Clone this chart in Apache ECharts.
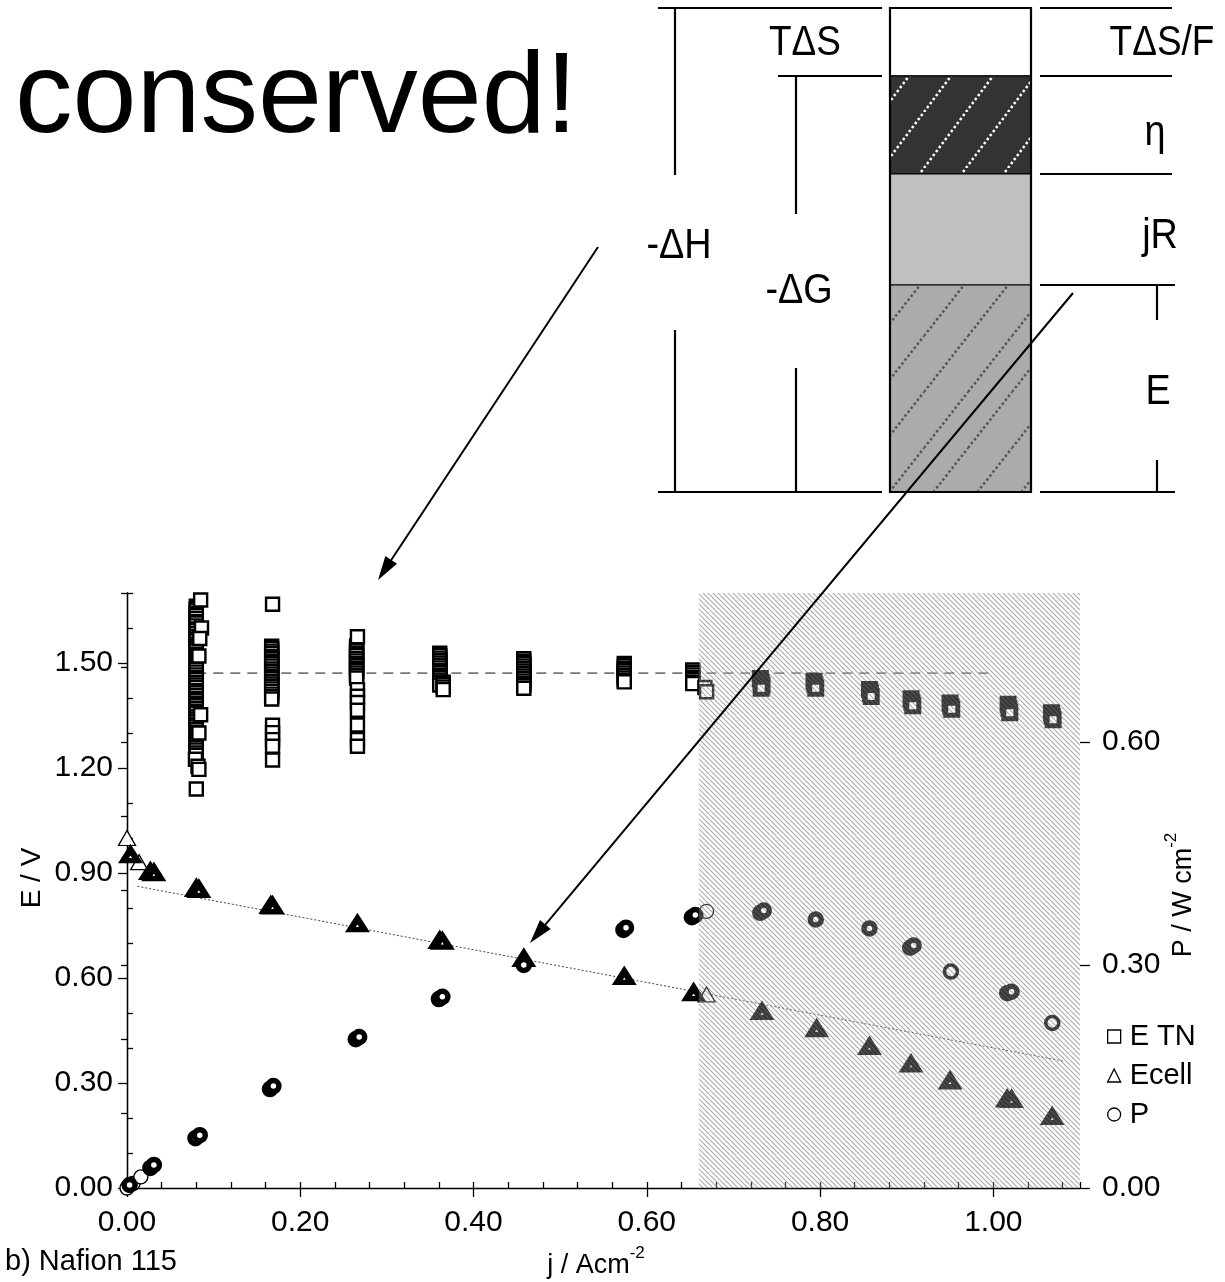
<!DOCTYPE html>
<html>
<head>
<meta charset="utf-8">
<script src="https://cdn.jsdelivr.net/npm/echarts@6/dist/echarts.min.js"></script>
<style>
  html, body { margin: 0; padding: 0; background: #fff; }
  #main { width: 1225px; height: 1282px; }
</style>
</head>
<body>
<div id="main"></div>
<script>
  const FONT = '"Liberation Sans", Arial, sans-serif';

  // E TN columns: repeated readings at one current density (j / A cm-2 -> E / V)
  const etnCol1 = [1.662, 1.655, 1.649, 1.641, 1.636, 1.628, 1.619, 1.614, 1.606, 1.597, 1.592, 1.584, 1.576, 1.569, 1.563, 1.554, 1.547, 1.540, 1.534, 1.525, 1.517, 1.511, 1.503, 1.497, 1.488, 1.481, 1.474, 1.466, 1.459, 1.452, 1.444, 1.437, 1.430, 1.421, 1.415, 1.407, 1.399, 1.393, 1.385, 1.378, 1.370, 1.362, 1.356, 1.347, 1.340, 1.333, 1.325, 1.318, 1.310, 1.302, 1.296, 1.288, 1.280, 1.273, 1.266, 1.258, 1.251, 1.243, 1.236];
  const etnCol2 = [1.548, 1.541, 1.534, 1.527, 1.519, 1.512, 1.505, 1.498, 1.491, 1.483, 1.476, 1.469, 1.462, 1.455, 1.447, 1.440, 1.433, 1.426, 1.419, 1.411, 1.404, 1.397];
  const etnCol3 = [1.549, 1.542, 1.535, 1.528, 1.521, 1.513, 1.506, 1.499, 1.492, 1.485, 1.478, 1.471, 1.464, 1.457];
  const etnCol4 = [1.528, 1.521, 1.514, 1.507, 1.500, 1.493, 1.486, 1.479, 1.472, 1.465, 1.458, 1.451, 1.444, 1.437];
  const etnCol5 = [1.512, 1.505, 1.498, 1.491, 1.484, 1.477, 1.470, 1.463, 1.456, 1.449, 1.442, 1.435, 1.428];
  const etnCol6 = [1.499, 1.492, 1.485, 1.478, 1.471, 1.464, 1.457, 1.450, 1.446];
  const etnCol7 = [1.480, 1.473, 1.466, 1.459, 1.452, 1.445, 1.441];
  const etnColJ = [0.080, 0.167, 0.265, 0.361, 0.458, 0.574, 0.653];
  const etnExtra = [[0.085, 1.680], [0.086, 1.600], [0.084, 1.570], [0.083, 1.520], [0.085, 1.352], [0.083, 1.300], [0.079, 1.225], [0.082, 1.205], [0.083, 1.196], [0.080, 1.140],
    [0.168, 1.668], [0.168, 1.322], [0.168, 1.301], [0.168, 1.281], [0.168, 1.262], [0.168, 1.223],
    [0.266, 1.575], [0.266, 1.424], [0.266, 1.405], [0.266, 1.387], [0.266, 1.365], [0.266, 1.323], [0.266, 1.281], [0.266, 1.262],
    [0.365, 1.445], [0.365, 1.438], [0.365, 1.431], [0.365, 1.424],
    [0.667, 1.430], [0.669, 1.418]];
  const etnHigh = [[0.731, 1.456], [0.732, 1.446], [0.733, 1.436], [0.732, 1.428],
    [0.793, 1.448], [0.794, 1.438], [0.795, 1.428],
    [0.857, 1.424], [0.858, 1.414], [0.859, 1.404],
    [0.905, 1.398], [0.906, 1.388], [0.907, 1.378],
    [0.950, 1.386], [0.951, 1.376], [0.952, 1.368],
    [1.017, 1.382], [1.018, 1.370], [1.019, 1.358],
    [1.067, 1.358], [1.068, 1.348], [1.069, 1.338]];

  // Ecell / V
  const ecellBold = [[0.004, 0.951], [0.027, 0.903], [0.031, 0.900], [0.080, 0.855], [0.083, 0.852], [0.166, 0.806], [0.168, 0.805], [0.266, 0.754], [0.361, 0.706], [0.364, 0.704], [0.458, 0.655], [0.574, 0.603], [0.654, 0.557], [0.733, 0.503], [0.796, 0.454], [0.857, 0.403], [0.905, 0.353], [0.950, 0.305], [1.016, 0.253], [1.021, 0.252], [1.068, 0.203]];
  const ecellThin = [[0.000, 1.000], [0.014, 0.931], [0.669, 0.553]];

  // P / W cm-2 (right axis)
  const pBold = [[0.003, 0.004], [0.027, 0.027], [0.031, 0.031], [0.079, 0.067], [0.084, 0.071], [0.165, 0.133], [0.169, 0.137], [0.264, 0.200], [0.268, 0.203], [0.360, 0.254], [0.364, 0.257], [0.458, 0.300], [0.573, 0.347], [0.576, 0.350], [0.652, 0.364], [0.656, 0.367], [0.731, 0.370], [0.735, 0.373], [0.795, 0.361], [0.857, 0.349], [0.904, 0.323], [0.908, 0.326], [1.016, 0.262], [1.021, 0.264]];
  const pThin = [[0.000, 0.000], [0.007, 0.006], [0.016, 0.015], [0.669, 0.372]];
  const pMid = [[0.951, 0.291], [1.068, 0.222]];

  const etnRef = [[0.080, 1.471], [1.000, 1.471]];
  const ecellFit = [[0.012, 0.862], [1.082, 0.362]];
  const shadeJ = [[0.660, 1.100]];

  const xMajor = [0, 0.2, 0.4, 0.6, 0.8, 1.0];
  const eMajor = [0, 0.3, 0.6, 0.9, 1.2, 1.5];
  const eMinor = [0.1, 0.2, 0.4, 0.5, 0.7, 0.8, 1.0, 1.1, 1.3, 1.4, 1.6, 1.7];
  const pMajor = [0, 0.3, 0.6];

  const etnAll = [etnCol1, etnCol2, etnCol3, etnCol4, etnCol5, etnCol6, etnCol7]
    .map((col, i) => col.map(e => [etnColJ[i], e]))
    .reduce((a, b) => a.concat(b), []).concat(etnExtra);

  // hatch for the shaded high current region
  const hatch = (function () {
    const c = document.createElement('canvas');
    c.width = 10; c.height = 10;
    const g = c.getContext('2d');
    g.fillStyle = 'rgba(255,255,255,0.22)';
    g.fillRect(0, 0, 10, 10);
    g.strokeStyle = 'rgba(105,105,105,0.55)';
    g.lineWidth = 1.2;
    for (let k = -10; k <= 10; k += 5) {
      g.beginPath(); g.moveTo(k, 0); g.lineTo(k + 10, 10); g.stroke();
    }
    return c;
  })();

  function dotted(bg, fg, w, h) {
    const c = document.createElement('canvas');
    c.width = w; c.height = h;
    const g = c.getContext('2d');
    g.fillStyle = bg;
    g.fillRect(0, 0, w, h);
    g.strokeStyle = fg;
    g.lineWidth = 2.5;
    g.setLineDash([2.5, 2.5]);
    [[0, h, w, 0], [-w, h, 0, 0], [w, h, 2 * w, 0]].forEach(s => {
      g.beginPath(); g.moveTo(s[0], s[1]); g.lineTo(s[2], s[3]); g.stroke();
    });
    return c;
  }
  const darkPat = dotted('#333', '#fff', 42, 56);
  const grayPat = dotted('#ababab', '#555', 44, 56);

  function seg(x1, y1, x2, y2, w) {
    return { type: 'line', z: 50, shape: { x1, y1, x2, y2 }, style: { stroke: '#000', lineWidth: w || 2.2 } };
  }
  function label(text, x, y, size, sx) {
    return {
      type: 'text', z: 50, x, y, scaleX: sx || 1,
      style: { text, font: size + 'px ' + FONT, fill: '#000', align: 'center', verticalAlign: 'middle', textAlign: 'center', textVerticalAlign: 'middle' }
    };
  }
  function arrow(x1, y1, x2, y2) {
    const a = Math.atan2(y2 - y1, x2 - x1), L = 24, W = 7;
    const bx = x2 - L * Math.cos(a), by = y2 - L * Math.sin(a);
    return [
      { type: 'line', z: 60, shape: { x1, y1, x2: bx, y2: by }, style: { stroke: '#000', lineWidth: 2 } },
      { type: 'polygon', z: 60, shape: { points: [[x2, y2], [bx + W * Math.sin(a), by - W * Math.cos(a)], [bx - W * Math.sin(a), by + W * Math.cos(a)]] }, style: { fill: '#000' } }
    ];
  }

  const diagram = [
    { type: 'rect', z: 40, shape: { x: 890, y: 8, width: 141, height: 68 }, style: { fill: '#fff', stroke: '#000', lineWidth: 1.5 } },
    { type: 'rect', z: 40, shape: { x: 890, y: 76, width: 141, height: 98 }, style: { fill: { image: darkPat, repeat: 'repeat' }, stroke: '#000', lineWidth: 1 } },
    { type: 'rect', z: 40, shape: { x: 890, y: 174, width: 141, height: 111 }, style: { fill: '#c0c0c0', stroke: '#000', lineWidth: 1 } },
    { type: 'rect', z: 40, shape: { x: 890, y: 285, width: 141, height: 207 }, style: { fill: { image: grayPat, repeat: 'repeat' }, stroke: '#000', lineWidth: 1 } },
    { type: 'rect', z: 41, shape: { x: 890, y: 8, width: 141, height: 484 }, style: { fill: 'none', stroke: '#000', lineWidth: 2.2 } },
    seg(658, 8, 882, 8), seg(778, 76, 882, 76), seg(658, 492, 882, 492),
    seg(675, 8, 675, 175), seg(675, 330, 675, 492),
    seg(796, 76, 796, 214), seg(796, 368, 796, 492),
    seg(1040, 8, 1172, 8), seg(1040, 76, 1172, 76), seg(1040, 174, 1172, 174),
    seg(1040, 285, 1175, 285), seg(1040, 492, 1175, 492),
    seg(1157, 285, 1157, 320), seg(1157, 460, 1157, 492),
    label('T\u0394S', 805, 43, 42, 0.88),
    label('-\u0394H', 679, 246, 42, 0.9),
    label('-\u0394G', 799, 291, 42, 0.9),
    label('T\u0394S/F', 1162, 43, 42, 0.88),
    label('\u03b7', 1155, 133, 42, 0.9),
    label('jR', 1160, 236, 42, 0.9),
    label('E', 1158, 392, 42, 0.9)
  ];

  const supRich = {
    n: { fontSize: 27, fontFamily: FONT, lineHeight: 34, verticalAlign: 'bottom' },
    s: { fontSize: 17, fontFamily: FONT, lineHeight: 20, verticalAlign: 'top' }
  };
  const texts = [
    { type: 'text', z: 50, x: 15, y: 100, style: { text: 'conserved!', font: '115px ' + FONT, fill: '#000', verticalAlign: 'middle', textVerticalAlign: 'middle' } },
    { type: 'text', z: 50, x: 5, y: 1262, style: { text: 'b) Nafion 115', font: '29px ' + FONT, fill: '#000', verticalAlign: 'middle', textVerticalAlign: 'middle' } },
    {
      type: 'text', z: 50, x: 596, y: 1262,
      style: { text: '{n|j / Acm}{s|-2}', fill: '#000', align: 'center', verticalAlign: 'middle', textAlign: 'center', textVerticalAlign: 'middle', rich: supRich }
    },
    Object.assign(label('E / V', 32, 878, 28), { rotation: Math.PI / 2 }),
    {
      type: 'text', z: 50, x: 1180, y: 895, rotation: Math.PI / 2,
      style: { text: '{n|P / W cm}{s|-2}', fill: '#000', align: 'center', verticalAlign: 'middle', textAlign: 'center', textVerticalAlign: 'middle', rich: supRich }
    }
  ];

  const chart = echarts.init(document.getElementById('main'));
  const tickStyle = { color: '#000', width: 1.3 };
  const lblStyle = { color: '#000', fontSize: 30, fontFamily: FONT };

  chart.setOption({
    animation: false,
    backgroundColor: '#fff',
    grid: { left: 127, right: 145, top: 593, bottom: 94, containLabel: false },
    legend: {
      orient: 'vertical', left: 1102, top: 1017, itemGap: 10, itemWidth: 13, itemHeight: 13,
      textStyle: { fontSize: 29, fontFamily: FONT, color: '#000', padding: [0, 0, 0, 4] },
      itemStyle: { color: '#fff', borderColor: '#000', borderWidth: 1.3 },
      data: [{ name: 'E TN', icon: 'rect' }, { name: 'Ecell', icon: 'triangle' }, { name: 'P', icon: 'circle' }]
    },
    xAxis: [
      {
        type: 'value', min: 0, max: 1.1, interval: 0.04, position: 'bottom',
        axisLine: { lineStyle: tickStyle }, axisTick: { inside: true, length: 6, lineStyle: tickStyle },
        axisLabel: { show: false }, splitLine: { show: false }
      },
      {
        type: 'value', min: 0, max: 1.1, position: 'bottom',
        axisLine: { show: false }, axisTick: { customValues: xMajor, length: 9, lineStyle: tickStyle },
        axisLabel: { customValues: xMajor, formatter: v => v.toFixed(2), margin: 20, ...lblStyle },
        splitLine: { show: false }
      }
    ],
    yAxis: [
      {
        type: 'value', min: 0, max: 1.7, position: 'left',
        axisLine: { show: true, lineStyle: tickStyle }, axisTick: { inside: true, length: 6, customValues: eMinor, lineStyle: tickStyle },
        axisLabel: { show: false }, splitLine: { show: false }
      },
      {
        type: 'value', min: 0, max: 0.8, interval: 0.1, position: 'right',
        axisLine: { show: true, lineStyle: tickStyle }, axisTick: { inside: true, length: 6, lineStyle: tickStyle },
        axisLabel: { show: false }, splitLine: { show: false }
      },
      {
        type: 'value', min: 0, max: 1.7, position: 'left',
        axisLine: { show: false }, axisTick: { customValues: eMajor, length: 9, lineStyle: tickStyle },
        axisLabel: { customValues: eMajor, formatter: v => v.toFixed(2), margin: 14, ...lblStyle },
        splitLine: { show: false }
      },
      {
        type: 'value', min: 0, max: 0.8, position: 'right',
        axisLine: { show: false }, axisTick: { customValues: pMajor, length: 10, lineStyle: tickStyle },
        axisLabel: { customValues: pMajor, formatter: v => v.toFixed(2), margin: 22, ...lblStyle },
        splitLine: { show: false }
      }
    ],
    series: [
      {
        type: 'line', data: etnRef, symbol: 'none', z: 1, silent: true,
        lineStyle: { color: '#777', width: 1.6, type: [10, 7] }
      },
      {
        type: 'line', data: ecellFit, symbol: 'none', z: 1, silent: true,
        lineStyle: { color: '#444', width: 1, type: [2, 2] }
      },
      {
        name: 'E TN', type: 'scatter', data: etnAll, symbol: 'rect', symbolSize: 13, z: 3,
        itemStyle: { color: '#fff', borderColor: '#000', borderWidth: 2.4, opacity: 1 }
      },
      {
        name: 'E TN', type: 'scatter', data: etnHigh, symbol: 'rect', symbolSize: 12, z: 3,
        itemStyle: { color: '#fff', borderColor: '#000', borderWidth: 5, opacity: 1 }
      },
      {
        name: 'Ecell', type: 'scatter', data: ecellThin, symbol: 'triangle', symbolSize: [17, 15], z: 3,
        itemStyle: { color: '#fff', borderColor: '#000', borderWidth: 1.3, opacity: 1 }
      },
      {
        name: 'Ecell', type: 'scatter', data: ecellBold, symbol: 'triangle', symbolSize: [14, 11], z: 3,
        itemStyle: { color: '#fff', borderColor: '#000', borderWidth: 6, opacity: 1 }
      },
      {
        name: 'P', type: 'scatter', data: pThin, yAxisIndex: 1, symbol: 'circle', symbolSize: 14, z: 3,
        itemStyle: { color: '#fff', borderColor: '#000', borderWidth: 1.4, opacity: 1 }
      },
      {
        name: 'P', type: 'scatter', data: pMid, yAxisIndex: 1, symbol: 'circle', symbolSize: 13, z: 3,
        itemStyle: { color: '#fff', borderColor: '#000', borderWidth: 3.5, opacity: 1 }
      },
      {
        name: 'P', type: 'scatter', data: pBold, yAxisIndex: 1, symbol: 'circle', symbolSize: 11, z: 3,
        itemStyle: { color: '#fff', borderColor: '#000', borderWidth: 5.5, opacity: 1 }
      },
      {
        type: 'custom', data: shadeJ, z: 10, silent: true,
        renderItem: function (params, api) {
          const p0 = api.coord([api.value(0), 1.7]);
          const p1 = api.coord([api.value(1), 0]);
          return {
            type: 'rect',
            shape: { x: p0[0], y: p0[1], width: p1[0] - p0[0], height: p1[1] - p0[1] },
            style: { fill: { image: hatch, repeat: 'repeat' } }
          };
        }
      }
    ],
    graphic: diagram.concat(texts, arrow(598, 247, 378, 580), arrow(1073, 293, 530, 943))
  });
</script>
</body>
</html>
